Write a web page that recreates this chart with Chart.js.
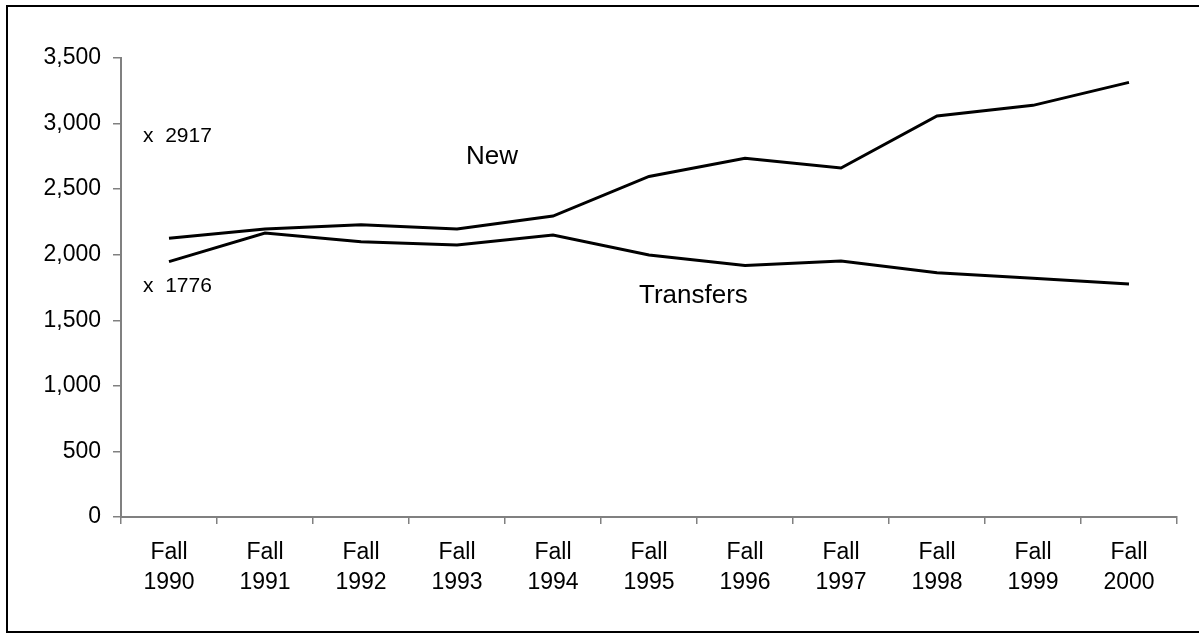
<!DOCTYPE html>
<html>
<head>
<meta charset="utf-8">
<script src="https://cdn.jsdelivr.net/npm/chart.js@4/dist/chart.umd.min.js"></script>
<style>
  html, body { margin: 0; padding: 0; background: #fff; overflow: hidden; }
  #frame { position: absolute; left: 6px; top: 5px; width: 1220px; height: 628px; border: 2px solid #000; box-sizing: border-box; }
  #wrap { position: absolute; left: 0; top: 0; width: 1199px; height: 634px; }
</style>
</head>
<body>
<div id="frame"></div>
<div id="wrap"><canvas id="chart" width="1199" height="634"></canvas></div>
<script>
// Fall enrollment: new students vs transfers
const terms = ['1990', '1991', '1992', '1993', '1994', '1995', '1996', '1997', '1998', '1999', '2000'];
const newStudents = [2125, 2196, 2229, 2196, 2295, 2597, 2736, 2661, 3058, 3139, 3314];
const transfers = [1947, 2166, 2099, 2074, 2150, 1998, 1918, 1952, 1863, 1820, 1777];
const yTicks = [0, 500, 1000, 1500, 2000, 2500, 3000, 3500];
const markers = [2917, 1776];

const FONT = '"Liberation Sans", Arial, sans-serif';

// text labels drawn on top of the plot
const notesPlugin = {
  id: 'notes',
  afterDatasetsDraw(chart) {
    const { ctx, scales: { x, y } } = chart;
    ctx.save();
    ctx.fillStyle = '#000';
    ctx.textAlign = 'left';
    ctx.textBaseline = 'alphabetic';
    ctx.font = '21px ' + FONT;
    markers.forEach((v) => {
      ctx.fillText('x  ' + v, chart.chartArea.left + 22, y.getPixelForValue(v) + 7.5);
    });
    ctx.font = '26px ' + FONT;
    ctx.fillText('New', x.getPixelForValue(3) + 9, y.getPixelForValue(2689));
    ctx.fillText('Transfers', x.getPixelForValue(5) - 10, y.getPixelForValue(1634));
    ctx.restore();
  },
};

const lineStyle = {
  borderColor: '#000',
  borderWidth: 3,
  pointRadius: 0,
  tension: 0,
  fill: false,
};

new Chart(document.getElementById('chart').getContext('2d'), {
  type: 'line',
  data: {
    labels: terms.map((t) => ['Fall', t]),
    datasets: [
      { label: 'New', data: newStudents, ...lineStyle },
      { label: 'Transfers', data: transfers, ...lineStyle },
    ],
  },
  options: {
    animation: false,
    responsive: false,
    layout: { padding: { top: 58, right: 22, bottom: 0, left: 0 } },
    plugins: { legend: { display: false }, tooltip: { enabled: false } },
    scales: {
      x: {
        offset: true,
        grid: { display: true, offset: true, drawOnChartArea: false, color: '#808080', lineWidth: 1.5, tickLength: 7 },
        border: { display: true, color: '#808080', width: 2 },
        ticks: { color: '#000', font: { family: FONT, size: 23, lineHeight: 1.3 }, padding: 14, maxRotation: 0, autoSkip: false },
        afterFit: (scale) => { scale.height = 117; },
      },
      y: {
        min: 0,
        max: 3500,
        afterBuildTicks: (scale) => { scale.ticks = yTicks.map((v) => ({ value: v })); },
        grid: { display: true, drawOnChartArea: false, color: '#808080', lineWidth: 1.5, tickLength: 8 },
        border: { display: true, color: '#808080', width: 2 },
        ticks: {
          color: '#000',
          font: { family: FONT, size: 23 },
          padding: 12,
          callback: (v) => v.toLocaleString('en-US'),
        },
        afterFit: (scale) => { scale.width = 121; },
      },
    },
  },
  plugins: [notesPlugin],
});
</script>
</body>
</html>
